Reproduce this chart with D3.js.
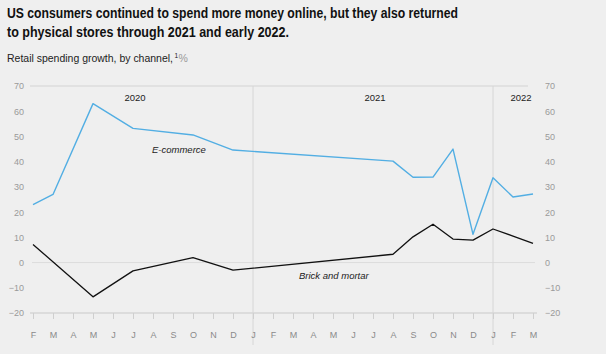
<!DOCTYPE html>
<html>
<head>
<meta charset="utf-8">
<script src="https://cdn.jsdelivr.net/npm/d3@7"></script>
<style>
  body { margin: 0; background: #efefef; }
  svg { display: block; font-family: "Liberation Sans", Arial, sans-serif; }
  .tick-label { fill: #9a9a9a; font-size: 9px; }
  .month-label { fill: #8a8a8a; font-size: 9px; }
</style>
</head>
<body>
<svg id="chart"></svg>
<script>
// month keys along the x axis, Feb 2020 to Mar 2022
const monthKeys = ['2020-02','2020-03','2020-04','2020-05','2020-06','2020-07','2020-08','2020-09','2020-10','2020-11','2020-12',
  '2021-01','2021-02','2021-03','2021-04','2021-05','2021-06','2021-07','2021-08','2021-09','2021-10','2021-11','2021-12',
  '2022-01','2022-02','2022-03'];
const monthLabels = ['F','M','A','M','J','J','A','S','O','N','D','J','F','M','A','M','J','J','A','S','O','N','D','J','F','M'];
const yTicks = [70, 60, 50, 40, 30, 20, 10, 0, -10, -20];
const yearLabels = [{key: '2020-07', text: '2020'}, {key: '2021-07', text: '2021'}, {key: '2022-02', text: '2022'}];
const yearBreaks = ['2021-01', '2022-01'];

// E-commerce growth, %
const ecomMonths = ['2020-02','2020-03','2020-05','2020-07','2020-10','2020-12','2021-08','2021-09','2021-10','2021-11','2021-12','2022-01','2022-02','2022-03'];
const ecomValues = [23, 27, 63, 53.2, 50.6, 44.6, 40.2, 33.8, 33.9, 45, 11.2, 33.6, 26, 27.2];

// Brick-and-mortar growth, %
const brickMonths = ['2020-02','2020-05','2020-07','2020-10','2020-12','2021-08','2021-09','2021-10','2021-11','2021-12','2022-01','2022-02','2022-03'];
const brickValues = [7.2, -13.6, -3.3, 2.0, -3, 3.3, 10.2, 15.2, 9.3, 8.9, 13.3, 10.5, 7.6];

const width = 606, height = 354;
const svg = d3.select('#chart').attr('width', width).attr('height', height);

// title
const title = svg.append('g').attr('font-weight', 'bold').attr('fill', '#111').attr('font-size', 15);
title.append('text').attr('x', 7).attr('y', 18)
  .attr('textLength', 451).attr('lengthAdjust', 'spacingAndGlyphs')
  .text('US consumers continued to spend more money online, but they also returned');
title.append('text').attr('x', 7).attr('y', 37)
  .attr('textLength', 282).attr('lengthAdjust', 'spacingAndGlyphs')
  .text('to physical stores through 2021 and early 2022.');

// subtitle
svg.append('text').attr('x', 7).attr('y', 62).attr('font-size', 10.5).attr('fill', '#222')
  .attr('textLength', 166).attr('lengthAdjust', 'spacingAndGlyphs')
  .text('Retail spending growth, by channel,');
svg.append('text').attr('x', 174.5).attr('y', 57.5).attr('font-size', 6.5).attr('fill', '#222').text('1');
svg.append('text').attr('x', 178.5).attr('y', 62).attr('font-size', 10.5).attr('fill', '#9a9a9a').text('%');

// scales
const x = d3.scalePoint().domain(monthKeys).range([33, 533]);
const y = d3.scaleLinear().domain([-20, 70]).range([313, 86]);

// horizontal reference lines
svg.append('line').attr('x1', 30).attr('x2', 528).attr('y1', y(70)).attr('y2', y(70))
  .attr('stroke', '#dcdcdc').attr('stroke-width', 1.5);
svg.append('line').attr('x1', 32).attr('x2', 535).attr('y1', y(0)).attr('y2', y(0))
  .attr('stroke', '#dcdcdc').attr('stroke-width', 1);

// year dividers
svg.selectAll('.divider').data(yearBreaks).join('line')
  .attr('class', 'divider')
  .attr('x1', d => x(d)).attr('x2', d => x(d))
  .attr('y1', y(70)).attr('y2', 345)
  .attr('stroke', '#d6d6d6').attr('stroke-width', 1);

// bottom axis with month ticks
const xAxis = d3.axisBottom(x).tickSize(6).tickFormat((d, i) => monthLabels[i]).tickPadding(13);
const xAxisG = svg.append('g').attr('transform', `translate(0,${y(-20)})`).call(xAxis);
xAxisG.select('.domain').attr('d', 'M30,0H537').attr('stroke', '#d6d6d6').attr('stroke-width', 1.5);
xAxisG.selectAll('.tick line').attr('stroke', '#cfcfcf');
xAxisG.selectAll('.tick text').attr('class', 'month-label').attr('font-family', null).attr('font-size', null);

// left and right y labels
const yLeft = d3.axisLeft(y).tickValues(yTicks).tickSize(0).tickPadding(0);
const yLeftG = svg.append('g').attr('transform', 'translate(24,0)').call(yLeft);
yLeftG.select('.domain').remove();
yLeftG.selectAll('text').attr('class', 'tick-label').attr('font-family', null).attr('font-size', null);

const yRight = d3.axisRight(y).tickValues(yTicks).tickSize(0).tickPadding(0);
const yRightG = svg.append('g').attr('transform', 'translate(545,0)').call(yRight);
yRightG.select('.domain').remove();
yRightG.selectAll('text').attr('class', 'tick-label').attr('font-family', null).attr('font-size', null);

// year labels
svg.selectAll('.year').data(yearLabels).join('text')
  .attr('class', 'year')
  .attr('x', d => x(d.key) + (d.text === '2022' ? 8 : 2))
  .attr('y', 101)
  .attr('text-anchor', 'middle')
  .attr('font-size', 9.5).attr('fill', '#222')
  .text(d => d.text);

// lines
const line = d3.line().x(d => x(d[0])).y(d => y(d[1]));

svg.append('path')
  .datum(d3.zip(ecomMonths, ecomValues))
  .attr('d', line)
  .attr('fill', 'none').attr('stroke', '#52aee3').attr('stroke-width', 1.4).attr('stroke-linejoin', 'round');

svg.append('path')
  .datum(d3.zip(brickMonths, brickValues))
  .attr('d', line)
  .attr('fill', 'none').attr('stroke', '#111').attr('stroke-width', 1.3).attr('stroke-linejoin', 'round');

// series labels
svg.append('text').attr('x', 152).attr('y', 153).attr('font-size', 9.5).attr('font-style', 'italic')
  .attr('fill', '#222').text('E-commerce');
svg.append('text').attr('x', 299).attr('y', 279).attr('font-size', 9.5).attr('font-style', 'italic')
  .attr('fill', '#222').text('Brick and mortar');
</script>
</body>
</html>
